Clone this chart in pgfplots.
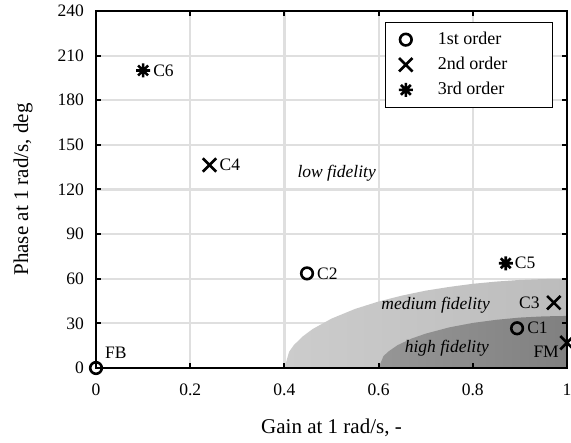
\documentclass[border=0pt]{standalone}
\usepackage{fontspec}
\setmainfont{Liberation Serif}
\usepackage{pgfplots}
\pgfplotsset{compat=1.18}
\definecolor{medL}{RGB}{204,204,204}
\definecolor{medR}{RGB}{188,188,188}
\definecolor{highL}{RGB}{150,150,150}
\definecolor{highR}{RGB}{128,128,128}
\definecolor{gridc}{RGB}{223,223,223}
\pgfdeclareplotmark{ast8}{%
  \pgfpathmoveto{\pgfqpoint{-\pgfplotmarksize}{0pt}}\pgfpathlineto{\pgfqpoint{\pgfplotmarksize}{0pt}}%
  \pgfpathmoveto{\pgfqpoint{0pt}{-\pgfplotmarksize}}\pgfpathlineto{\pgfqpoint{0pt}{\pgfplotmarksize}}%
  \pgfpathmoveto{\pgfqpoint{-0.707\pgfplotmarksize}{-0.707\pgfplotmarksize}}\pgfpathlineto{\pgfqpoint{0.707\pgfplotmarksize}{0.707\pgfplotmarksize}}%
  \pgfpathmoveto{\pgfqpoint{-0.707\pgfplotmarksize}{0.707\pgfplotmarksize}}\pgfpathlineto{\pgfqpoint{0.707\pgfplotmarksize}{-0.707\pgfplotmarksize}}%
  \pgfusepathqstroke}
% axis frame and inward tick marks, placed through the axis as plot marks
\pgfdeclareplotmark{axbox}{\pgfpathrectangle{\pgfpointorigin}{\pgfqpoint{471pt}{357pt}}\pgfusepathqstroke}
\pgfdeclareplotmark{tku}{\pgfpathmoveto{\pgfpointorigin}\pgfpathlineto{\pgfqpoint{0pt}{5pt}}\pgfusepathqstroke}
\pgfdeclareplotmark{tkd}{\pgfpathmoveto{\pgfpointorigin}\pgfpathlineto{\pgfqpoint{0pt}{-5pt}}\pgfusepathqstroke}
\pgfdeclareplotmark{tkr}{\pgfpathmoveto{\pgfpointorigin}\pgfpathlineto{\pgfqpoint{5pt}{0pt}}\pgfusepathqstroke}
\pgfdeclareplotmark{tkl}{\pgfpathmoveto{\pgfpointorigin}\pgfpathlineto{\pgfqpoint{-5pt}{0pt}}\pgfusepathqstroke}
\begin{document}
\fontsize{17.5}{20}\selectfont
\begin{tikzpicture}
\begin{axis}[
  scale only axis,
  width=471pt, height=357pt,
  xmin=0, xmax=1, ymin=0, ymax=240,
  xtick={0,0.2,0.4,0.6,0.8,1},
  xticklabels={0,0.2,0.4,0.6,0.8,1},
  ytick={0,30,60,90,120,150,180,210,240},
  yticklabels={0,30,60,90,120,150,180,210,240},
  grid=major,
  major grid style={color=gridc, line width=2.2pt},
  major tick length=5pt,
  tick style={color=black, line width=2pt},
  axis line style={color=black, line width=2.5pt},
  xticklabel style={yshift=-10pt},
  yticklabel style={xshift=-6pt},
  xlabel={Gain at 1 rad/s, -},
  ylabel={Phase at 1 rad/s, deg},
  xlabel style={font=\fontsize{21}{24}\selectfont, at={(axis description cs:0.5,0)}, anchor=base, yshift=-66pt},
  ylabel style={font=\fontsize{21}{24}\selectfont, at={(axis description cs:-0.155,0.5)}, anchor=center},
  legend style={at={(1,1)}, anchor=north east, xshift=-14.3pt, yshift=-10.7pt,
    draw=black, line width=0.8pt, fill=white, inner xsep=13pt, inner ysep=8pt,
    row sep=6pt, column sep=23pt,
    font=\fontsize{18}{21}\selectfont},
  legend cell align=left,
  clip=false,
]
\addplot[draw=none, left color=medL, right color=medR, forget plot] coordinates {
  (0.40,0) (0.41,10.9) (0.42,15.4) (0.44,21.5) (0.46,26.2) (0.50,33.2) (0.55,39.7)
  (0.60,44.7) (0.65,48.7) (0.70,52.0) (0.75,54.5) (0.80,56.6) (0.85,58.1)
  (0.90,59.2) (0.95,59.8) (1.00,60) (1.00,0) (0.40,0)};
\addplot[draw=none, left color=highL, right color=highR, forget plot] coordinates {
  (0.60,0) (0.61,7.8) (0.62,10.9) (0.64,15.3) (0.67,19.8) (0.70,23.1) (0.75,27.3)
  (0.80,30.3) (0.85,32.4) (0.90,33.9) (0.95,34.7) (1.00,35) (1.00,0) (0.60,0)};

% frame and ticks
\addplot[only marks, mark=axbox, line width=2.5pt, black, mark options={solid, fill=none}, forget plot] coordinates {(0,0)};
\addplot[only marks, mark=tku, line width=2pt, black, mark options={solid}, forget plot] coordinates {(0.2,0) (0.4,0) (0.6,0) (0.8,0)};
\addplot[only marks, mark=tkd, line width=2pt, black, mark options={solid}, forget plot] coordinates {(0.2,240) (0.4,240) (0.6,240) (0.8,240)};
\addplot[only marks, mark=tkr, line width=2pt, black, mark options={solid}, forget plot] coordinates {(0,30) (0,60) (0,90) (0,120) (0,150) (0,180) (0,210)};
\addplot[only marks, mark=tkl, line width=2pt, black, mark options={solid}, forget plot] coordinates {(1,30) (1,60) (1,90) (1,120) (1,150) (1,180) (1,210)};

\addplot[only marks, mark=o, mark size=5.8pt, line width=2.6pt, black] coordinates {
  (0,0) (0.448,63.6) (0.894,26.7)};
\addlegendentry{1st order\hspace*{36pt}}
\addplot[only marks, mark=x, mark size=9.5pt, line width=2.6pt, black] coordinates {
  (0.241,136.5) (0.972,43.9) (1.0,17.0)};
\addlegendentry{2nd order}
\addplot[only marks, mark=ast8, mark size=7pt, line width=2.6pt, black] coordinates {
  (0.10,200) (0.870,70.4)};
\addlegendentry{3rd order}

\node[font=\itshape] at (axis cs:0.511,131) {low fidelity};
\node[font=\itshape] at (axis cs:0.721,42.4) {medium fidelity};
\node[font=\itshape] at (axis cs:0.745,13.2) {high fidelity};

\node[anchor=west, inner sep=0pt, xshift=10pt] at (axis cs:0.10,200) {C6};
\node[anchor=west, inner sep=0pt, xshift=10pt] at (axis cs:0.241,136.5) {C4};
\node[anchor=west, inner sep=0pt, xshift=10pt] at (axis cs:0.448,63.6) {C2};
\node[anchor=west, inner sep=0pt, xshift=9pt] at (axis cs:0.870,70.4) {C5};
\node[anchor=west, inner sep=0pt, xshift=10pt] at (axis cs:0.894,26.7) {C1};
\node[anchor=east, inner sep=0pt, xshift=-14pt] at (axis cs:0.972,43.9) {C3};
\node[anchor=east, inner sep=0pt, xshift=-8pt, yshift=-9pt] at (axis cs:1.0,17.0) {FM};
\node[anchor=west, inner sep=0pt, xshift=9pt, yshift=14.7pt] at (axis cs:0,0) {FB};
\end{axis}
\pgfresetboundingbox
\path[use as bounding box] (-96pt,-75pt) rectangle (475pt,368pt);
\end{tikzpicture}
\end{document}
